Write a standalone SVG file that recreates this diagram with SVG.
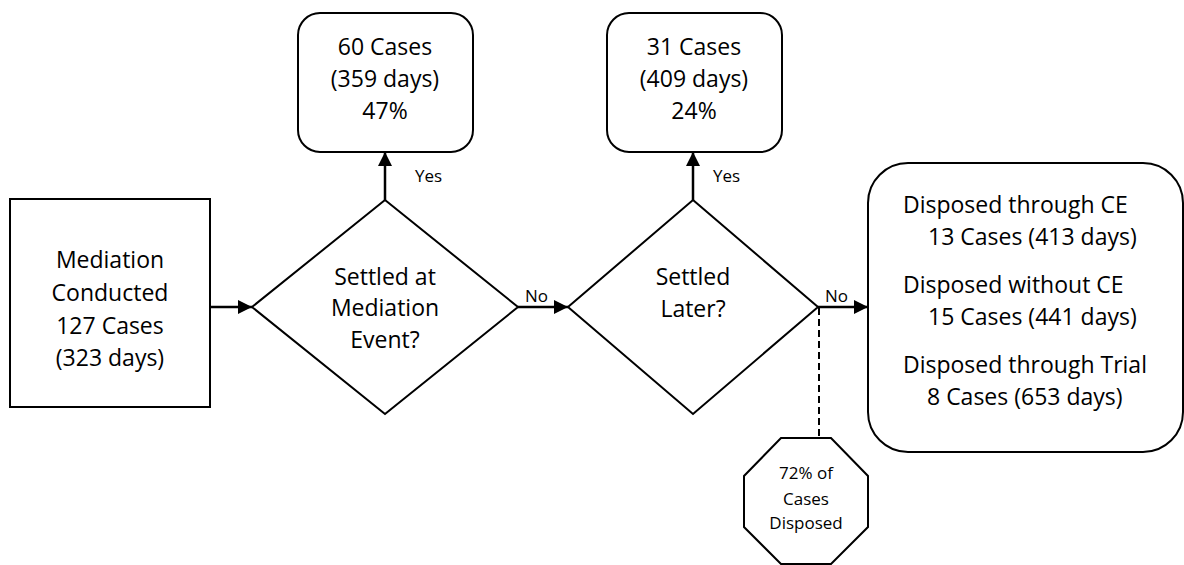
<svg xmlns="http://www.w3.org/2000/svg" width="1184" height="565" viewBox="0 0 1184 565">
  <style>
    .shape { fill: #ffffff; stroke: #000000; stroke-width: 2; }
    .t { font-family: "Open Sans", "Noto Sans", sans-serif; font-size: 23px; fill: #000000; }
    .c { text-anchor: middle; }
    .lbl { font-family: "Open Sans", "Noto Sans", sans-serif; font-size: 17px; fill: #000000; }
    .small { font-family: "Open Sans", "Noto Sans", sans-serif; font-size: 17px; fill: #000000; text-anchor: middle; }
    .edge { fill: none; stroke: #000000; stroke-width: 2.5; }
    .dash { fill: none; stroke: #000000; stroke-width: 2; stroke-dasharray: 7 4; }
  </style>
  <defs>
    <marker id="arrow" markerUnits="userSpaceOnUse" markerWidth="14" markerHeight="14" refX="14" refY="7" orient="auto">
      <path d="M0,0 L14,7 L0,14 z" fill="#000000"/>
    </marker>
  </defs>

  <rect width="1184" height="565" fill="#ffffff"/>

  <g id="connectors">
    <line class="edge" x1="210" y1="307" x2="252" y2="307" marker-end="url(#arrow)"/>
    <line class="edge" x1="385" y1="200" x2="385" y2="152" marker-end="url(#arrow)"/>
    <line class="edge" x1="518" y1="307" x2="568" y2="307" marker-end="url(#arrow)"/>
    <line class="edge" x1="693" y1="200" x2="693" y2="152" marker-end="url(#arrow)"/>
    <line class="edge" x1="818" y1="307" x2="868" y2="307" marker-end="url(#arrow)"/>
    <line class="dash" x1="819" y1="308" x2="819" y2="438"/>
    <text class="lbl" x="415" y="182">Yes</text>
    <text class="lbl" x="713" y="182">Yes</text>
    <text class="lbl" x="525" y="302">No</text>
    <text class="lbl" x="825" y="302">No</text>
  </g>

  <g id="mediation-conducted">
    <rect class="shape" x="10" y="199" width="200" height="208"/>
    <text class="t c" x="110" y="268">Mediation</text>
    <text class="t c" x="110" y="301">Conducted</text>
    <text class="t c" x="110" y="334">127 Cases</text>
    <text class="t c" x="110" y="366">(323 days)</text>
  </g>

  <g id="settled-at-mediation">
    <polygon class="shape" points="385,200 518,307 385,414 252,307"/>
    <text class="t c" x="385" y="285">Settled at</text>
    <text class="t c" x="385" y="316">Mediation</text>
    <text class="t c" x="385" y="348">Event?</text>
  </g>

  <g id="settled-mediation-result">
    <rect class="shape" x="298" y="13" width="175" height="139" rx="22" ry="22"/>
    <text class="t c" x="385" y="55">60 Cases</text>
    <text class="t c" x="385" y="87">(359 days)</text>
    <text class="t c" x="385" y="119">47%</text>
  </g>

  <g id="settled-later">
    <polygon class="shape" points="693,200 818,307 693,414 568,307"/>
    <text class="t c" x="693" y="285">Settled</text>
    <text class="t c" x="693" y="317">Later?</text>
  </g>

  <g id="settled-later-result">
    <rect class="shape" x="607" y="13" width="175" height="139" rx="22" ry="22"/>
    <text class="t c" x="694" y="55">31 Cases</text>
    <text class="t c" x="694" y="87">(409 days)</text>
    <text class="t c" x="694" y="119">24%</text>
  </g>

  <g id="disposed-breakdown">
    <rect class="shape" x="868" y="163" width="315" height="289" rx="40" ry="40"/>
    <text class="t" x="903" y="213">Disposed through CE</text>
    <text class="t" x="928" y="245">13 Cases (413 days)</text>
    <text class="t" x="903" y="293">Disposed without CE</text>
    <text class="t" x="928" y="325">15 Cases (441 days)</text>
    <text class="t" x="903" y="373">Disposed through Trial</text>
    <text class="t" x="927" y="405">8 Cases (653 days)</text>
  </g>

  <g id="disposed-share">
    <polygon class="shape" points="781,438 831,438 868,476 868,527 831,564 781,564 744,527 744,476"/>
    <text class="small" x="806" y="479">72% of</text>
    <text class="small" x="806" y="505">Cases</text>
    <text class="small" x="806" y="529">Disposed</text>
  </g>
</svg>
